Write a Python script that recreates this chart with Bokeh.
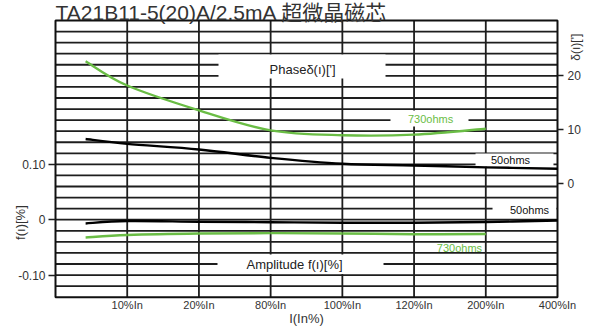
import numpy as np
from bokeh.plotting import figure
from bokeh.models import Range1d, LinearAxis, FixedTicker, Label
from bokeh.embed import file_html
from bokeh.resources import INLINE

# ---------------- data ----------------
x_labels = ["10%In", "20%In", "80%In", "100%In", "120%In", "200%In", "400%In"]
x_ticks = [1, 2, 3, 4, 5, 6, 7]
x_pts = [0.42, 1, 2, 3, 4, 5, 6, 7]

phase_730 = [22.7, 18.2, 13.6, 9.9, 9.0, 9.1, 10.2]          # δ(ı)['] , 730 ohms
phase_50 = [8.3, 7.4, 6.35, 4.8, 3.7, 3.4, 3.05, 2.8]          # δ(ı)['] , 50 ohms
amp_50 = [-0.0067, -0.0024, -0.0036, -0.0045, -0.0054, -0.0054, -0.0042, -0.0013]   # f(ı)[%]
amp_730 = [-0.032, -0.0277, -0.0250, -0.0243, -0.0248, -0.0262, -0.0258]           # f(ı)[%]

left_ticks = [-0.1, 0.0, 0.1]
left_tick_labels = ["-0.10", "0", "0.10"]
right_ticks = [0, 10, 20]

# chart box (data units) and grid spacing
X0, X1 = 0.0, 7.0
Y0, Y1 = -0.14, 0.36
Y_STEP = 0.02

FONT = "'Liberation Sans', 'Noto Sans CJK SC', sans-serif"
GREEN = "#6abd45"
GRID = "#1e1e1e"

# the frame fills the canvas; the chart box sits at px 55..557 x 20..296.7
PX_X = 71.714   # px per category
PX_Y = 553.4    # px per unit of f(ı)
PH_PX = 5.4     # px per unit of δ(ı)
x_range = Range1d(X0 - 55 / PX_X, X1 + 38 / PX_X)
y_range = Range1d(Y0 - 32.3 / PX_Y, Y1 + 20 / PX_Y)

p = figure(width=595, height=329, output_backend="svg", toolbar_location=None,
           x_range=x_range, y_range=y_range, min_border=0,
           min_border_left=0, min_border_right=0, min_border_top=0, min_border_bottom=0)
p.title.visible = False
p.background_fill_color = "white"
p.border_fill_color = "white"
p.outline_line_color = None
p.xgrid.visible = False
p.ygrid.visible = False

# phase range: 20 -> px 75.3, 0 -> px 183.3
p.extra_y_ranges = {"phase": Range1d(-(329 - 183.3) / PH_PX, 183.3 / PH_PX)}

# grid lines
h_vals = [round(v, 2) for v in np.arange(Y0 + Y_STEP, Y1 - 1e-9, Y_STEP)]
v_vals = [1, 2, 3, 4, 5, 6]
p.segment(x0=[X0] * len(h_vals), x1=[X1] * len(h_vals), y0=h_vals, y1=h_vals,
          line_color=GRID, line_width=1.8)
p.segment(x0=v_vals, x1=v_vals, y0=[Y0] * len(v_vals), y1=[Y1] * len(v_vals),
          line_color=GRID, line_width=1.8)

# white boxes behind in-plot labels (cover grid lines)
boxes = [
    (2.273, 4.602, 0.2552, 0.2985),    # Phase label
    (2.259, 4.574, -0.0981, -0.0629),  # Amplitude label
    (4.671, 5.759, 0.1684, 0.1973),    # 730ohms (phase)
    (5.857, 6.944, 0.0961, 0.1196),    # 50ohms (phase)
    (6.094, 6.986, 0.0076, 0.0329),    # 50ohms (amplitude)
]
p.quad(left=[b[0] for b in boxes], right=[b[1] for b in boxes],
       bottom=[b[2] for b in boxes], top=[b[3] for b in boxes],
       fill_color="white", line_color=None)

# chart border
p.quad(left=[X0], right=[X1], bottom=[Y0], top=[Y1], fill_color=None,
       line_color="#111111", line_width=2)


def smooth(xs, ys, color, y_range_name="default"):
    xs = np.asarray(xs, float)
    ys = np.asarray(ys, float)
    n = len(xs)
    x0, y0, x1, y1, cx0, cy0, cx1, cy1 = ([] for _ in range(8))
    for i in range(n - 1):
        im = max(i - 1, 0)
        ip = min(i + 2, n - 1)
        x0.append(xs[i]); y0.append(ys[i])
        x1.append(xs[i + 1]); y1.append(ys[i + 1])
        cx0.append(xs[i] + (xs[i + 1] - xs[im]) / 6.0)
        cy0.append(ys[i] + (ys[i + 1] - ys[im]) / 6.0)
        cx1.append(xs[i + 1] - (xs[ip] - xs[i]) / 6.0)
        cy1.append(ys[i + 1] - (ys[ip] - ys[i]) / 6.0)
    p.bezier(x0=x0, y0=y0, x1=x1, y1=y1, cx0=cx0, cy0=cy0, cx1=cx1, cy1=cy1,
             line_color=color, line_width=2.4, y_range_name=y_range_name)


smooth(x_pts[:len(phase_730)], phase_730, GREEN, "phase")
smooth(x_pts[:len(phase_50)], phase_50, "#000000", "phase")
smooth(x_pts[:len(amp_50)], amp_50, "#000000")
smooth(x_pts[:len(amp_730)], amp_730, GREEN)

# bottom axis, fixed at the bottom edge of the chart box
xa = p.xaxis[0]
xa.fixed_location = Y0
xa.ticker = FixedTicker(ticks=x_ticks)
xa.major_label_overrides = {t: l for t, l in zip(x_ticks, x_labels)}
xa.major_tick_out = 0
xa.major_tick_in = 0
xa.minor_tick_out = 0
xa.minor_tick_in = 0
xa.axis_line_color = None
xa.major_label_text_font = FONT
xa.major_label_text_font_size = "11px"
xa.major_label_text_color = "#333333"
xa.major_label_standoff = 2

# left axis, fixed at the left edge
ya = p.yaxis[0]
ya.fixed_location = X0
ya.ticker = FixedTicker(ticks=left_ticks)
ya.major_label_overrides = {t: l for t, l in zip(left_ticks, left_tick_labels)}
ya.major_tick_out = 7
ya.major_tick_in = 0
ya.minor_tick_out = 0
ya.minor_tick_in = 0
ya.major_tick_line_width = 1.5
ya.major_tick_line_color = GRID
ya.axis_line_color = None
ya.major_label_text_font = FONT
ya.major_label_text_font_size = "12px"
ya.major_label_text_color = "#333333"
ya.major_label_standoff = 3

# right axis (phase), fixed at the right edge
ra = LinearAxis(y_range_name="phase", ticker=FixedTicker(ticks=right_ticks), fixed_location=X1)
ra.major_tick_out = 6
ra.major_tick_in = 0
ra.minor_tick_out = 0
ra.minor_tick_in = 0
ra.major_tick_line_width = 1.5
ra.major_tick_line_color = GRID
ra.axis_line_color = None
ra.major_label_text_font = FONT
ra.major_label_text_font_size = "12px"
ra.major_label_text_color = "#333333"
ra.major_label_standoff = 4
p.add_layout(ra, "right")


def lab(x, y, text, color="#222222", size="13px", align="center", baseline="middle", angle=0.0):
    p.add_layout(Label(x=x, y=y, text=text, text_color=color, text_font=FONT,
                       text_font_size=size, text_align=align, text_baseline=baseline,
                       angle=angle))


lab(3.445, 0.2714, "Phaseδ(ı)[']", size="13px")
lab(3.333, -0.081, "Amplitude f(ı)[%]", size="13px")
lab(5.23, 0.1829, "730ohms", color=GREEN, size="11px")
lab(6.345, 0.1082, "50ohms", color="#111111", size="11px")
lab(6.61, 0.0184, "50ohms", color="#111111", size="11px")
lab(5.633, -0.0502, "730ohms", color=GREEN, size="11px")

# title and axis titles
lab(0.0, 0.3745, "TA21B11-5(20)A/2.5mA 超微晶磁芯", color="#333333", size="21px",
    align="left", baseline="alphabetic")
lab(-0.488, -0.0051, "f(ı)[%]", color="#333333", size="13px", angle=np.pi / 2)
lab(7.251, 0.3117, "δ(ı)[']", color="#333333", size="12px", angle=np.pi / 2)
lab(3.5, -0.1785, "I(In%)", color="#333333", size="13px")

open("out.html", "w").write(file_html(p, INLINE))
